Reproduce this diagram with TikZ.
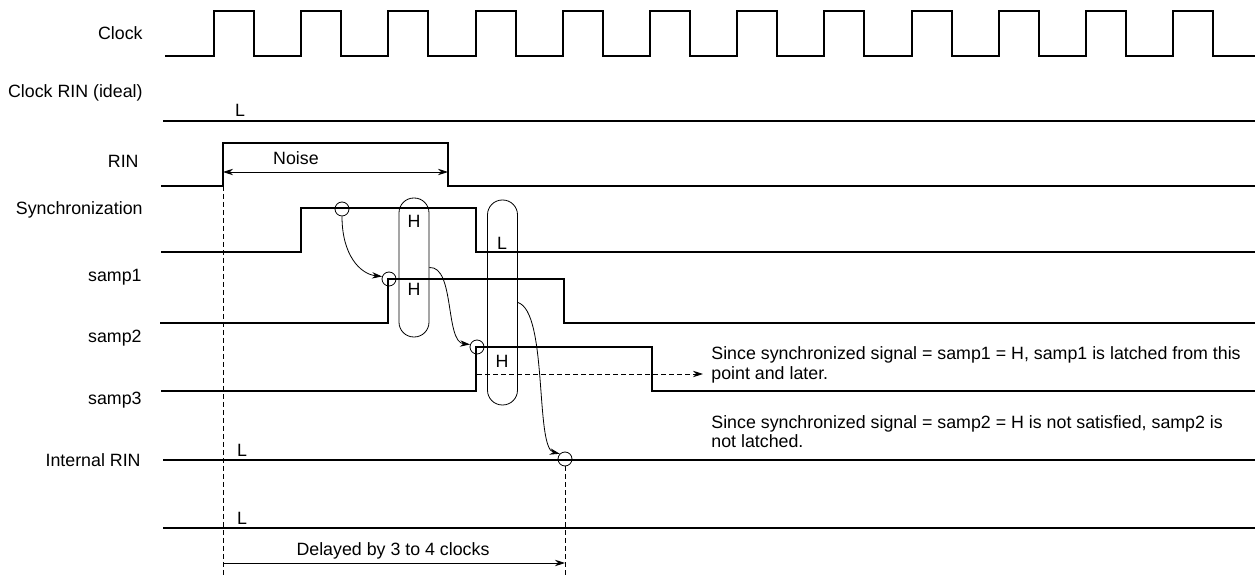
\documentclass[tikz,border=0pt]{standalone}
\usepackage{fontspec}
\setmainfont{Liberation Sans}
\usetikzlibrary{arrows.meta}
\begin{document}
\begin{tikzpicture}[>={Stealth[length=5pt, width=3.2pt]}, x=0.5pt, y=-0.5pt,
    font=\fontsize{8.9}{9.6}\selectfont,
    wave/.style={line width=1pt},
    lbl/.style={anchor=east, inner sep=0pt},
    lvl/.style={inner sep=0pt},
    ring/.style={draw, circle, thin, inner sep=0pt, minimum size=7pt},
    ovalbox/.style={draw, thin, rounded corners=7.4pt, inner sep=0pt, minimum width=15pt},
    note/.style={anchor=west, align=left, inner sep=0pt, inner xsep=4pt},
    guide/.style={thin, dash pattern=on 2.5pt off 1.5pt}]
    \useasboundingbox (0,0) rectangle (1260,576);

    \node[lbl] (clk) at (143,33) {Clock};
    \node[lbl] (ideal) at (143,93) {Clock RIN (ideal)};
    \node[lbl] (rin) at (139,161) {RIN};
    \node[lbl] (sync) at (143,210) {Synchronization};
    \node[lbl] (s1) at (142,277) {samp1};
    \node[lbl] (s2) at (142,338) {samp2};
    \node[lbl] (s3) at (142,400) {samp3};
    \node[lbl] (irin) at (141,460) {Internal RIN};

    \draw[wave] (165,56) \foreach \t in {0,...,11} {
        -- ({214+87.2*\t},56) -- ({214+87.2*\t},11) -- ({254+87.2*\t},11) -- ({254+87.2*\t},56)} -- (1255,56);
    \draw[wave] (163,121) -- (1255,121);
    \draw[wave] (161,186) -- (223,186) -- (223,143) -- (448,143) -- (448,186) -- (1255,186);
    \draw[wave] (161,252) -- (301,252) -- (301,208) -- (476,208) -- (476,252) -- (1255,252);
    \draw[wave] (160,323) -- (388,323) -- (388,279) -- (564,279) -- (564,323) -- (1255,323);
    \draw[wave] (161,391) -- (476,391) -- (476,347) -- (652,347) -- (652,391) -- (1255,391);
    \draw[wave] (163,460) -- (1255,460);
    \draw[wave] (163,528) -- (1255,528);

    \node[lvl] (l0) at (240,110) {L};
    \node[lvl] (l3) at (242,450) {L};
    \node[lvl] (l4) at (242,518) {L};

    \node[lvl] (noise) at (296,158) {Noise};
    \draw[thin, <->] (223,172) -- (448,172);

    \node[ovalbox, minimum height=69.5pt] (o1) at (414,267.5) {};
    \node[ovalbox, minimum height=102.5pt] (o2) at (502.5,302.5) {};
    \node[lvl] (h1) at (414,221) {H};
    \node[lvl] (h2) at (414,289) {H};
    \node[lvl] (l2) at (502,243) {L};
    \node[lvl] (h3) at (502,361) {H};

    \node[ring] (c1) at (342,209) {};
    \node[ring] (c2) at (389,279) {};
    \node[ring] (c3) at (477,347) {};
    \node[ring] (c4) at (565,459) {};

    \draw[thin, ->] (c1.south) .. controls (342,255) and (360,274) .. (c2.160);
    \draw[thin, ->] (o1.east) .. controls (455,266) and (445,342) .. (c3.160);
    \draw[thin, ->] (o2.east) .. controls (548,312) and (535,448) .. (c4.135);

    \node[note] (note1) at (703,365) {Since synchronized signal = samp1 = H, samp1 is latched from this\\point and later.};
    \node[note] (note2) at (703,431.5) {Since synchronized signal = samp2 = H is not satisfied, samp2 is\\not latched.};
    \coordinate (latch) at (477,374);
    \draw[guide, ->] (latch) -- (latch -| note1.west);

    \coordinate (start) at (223,186);
    \draw[guide] (start) -- (start |- 0,576);
    \draw[guide] (c4.south) -- (c4.south |- 0,576);
    \draw[thin, ->] (223,563) -- (c4.south |- 0,563);
    \node[lvl] (delay) at (393,551) {Delayed by 3 to 4 clocks};
\end{tikzpicture}
\end{document}
